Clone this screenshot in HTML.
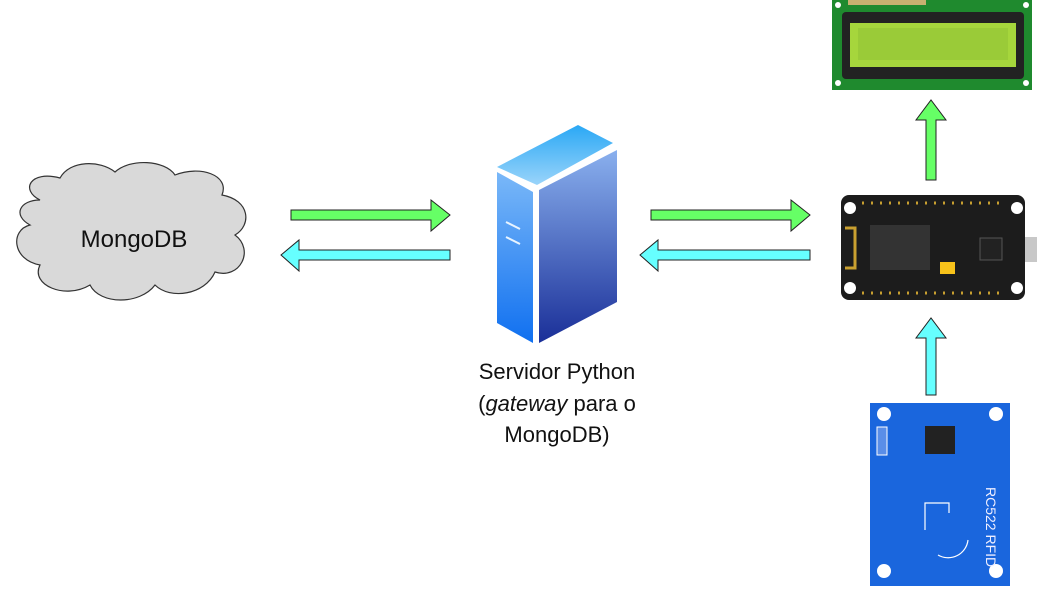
<!DOCTYPE html>
<html><head><meta charset="utf-8"><style>
body{margin:0;width:1040px;height:587px;background:#fff;overflow:hidden;font-family:"Liberation Sans",sans-serif}
</style></head><body>
<svg width="1040" height="587" viewBox="0 0 1040 587" xmlns="http://www.w3.org/2000/svg">
<defs>
<linearGradient id="lf" x1="0" y1="0" x2="0" y2="1"><stop offset="0" stop-color="#7ab8f8"/><stop offset="1" stop-color="#1070f0"/></linearGradient>
<linearGradient id="rf" x1="0" y1="0" x2="0" y2="1"><stop offset="0" stop-color="#8ab0ee"/><stop offset="1" stop-color="#1a2f98"/></linearGradient>
<linearGradient id="tf" x1="0" y1="0" x2="0" y2="1"><stop offset="0" stop-color="#2aa8f5"/><stop offset="1" stop-color="#9ad4fa"/></linearGradient>
</defs>
<path d="M40,200 C20,190 30,170 60,178 C70,160 100,160 115,172 C130,158 165,160 175,175 C200,165 230,175 222,195 C250,200 252,225 235,235 C255,250 240,280 215,272 C205,295 170,300 155,285 C140,305 100,305 90,285 C65,300 30,285 40,265 C12,260 10,230 30,225 C12,215 20,200 40,200 Z" fill="#d9d9d9" stroke="#333" stroke-width="1.2"/>
<text x="134" y="247" font-size="24" text-anchor="middle" fill="#111">MongoDB</text>
<g stroke="#222" stroke-width="1">
<polygon points="291,210 431,210 431,200 450,215 431,231 431,220 291,220" fill="#66ff66"/>
<polygon points="450,250 299,250 299,240 281,255 299,271 299,260 450,260" fill="#66ffff"/>
<polygon points="651,210 791,210 791,200 810,215 791,231 791,220 651,220" fill="#66ff66"/>
<polygon points="810,250 658,250 658,240 640,255 658,271 658,260 810,260" fill="#66ffff"/>
<polygon points="926,180 926,120 916,120 931,100 946,120 936,120 936,180" fill="#66ff66"/>
<polygon points="926,395 926,338 916,338 931,318 946,338 936,338 936,395" fill="#66ffff"/>
</g>
<polygon points="497,167 578,125 613,143 537,185" fill="url(#tf)"/>
<polygon points="497,172 533,192 533,343 497,323" fill="url(#lf)"/>
<polygon points="539,190 617,150 617,302 539,343" fill="url(#rf)"/>
<line x1="506" y1="222" x2="520" y2="229" stroke="#e8f4ff" stroke-width="2"/>
<line x1="506" y1="237" x2="520" y2="244" stroke="#e8f4ff" stroke-width="2"/>
<text font-size="22" text-anchor="middle" fill="#111"><tspan x="557" y="379">Servidor Python</tspan><tspan x="557" y="411">(<tspan font-style="italic">gateway</tspan> para o</tspan><tspan x="557" y="442">MongoDB)</tspan></text>
<rect x="832" y="0" width="200" height="90" fill="#1f8a2e"/>
<rect x="842" y="12" width="182" height="67" rx="4" fill="#222"/>
<rect x="850" y="23" width="166" height="44" fill="#a6d63c"/>
<rect x="858" y="28" width="150" height="32" fill="#9acb38"/>
<rect x="848" y="0" width="78" height="5" fill="#c8b070"/>
<circle cx="838" cy="5" r="3" fill="#fff"/><circle cx="1026" cy="5" r="3" fill="#fff"/><circle cx="838" cy="83" r="3" fill="#fff"/><circle cx="1026" cy="83" r="3" fill="#fff"/>
<rect x="1010" y="237" width="27" height="25" fill="#c8c8c8"/>
<rect x="841" y="195" width="184" height="105" rx="8" fill="#1c1c1c"/>
<line x1="862" y1="203" x2="1004" y2="203" stroke="#c9a030" stroke-width="3" stroke-dasharray="2,7"/>
<line x1="862" y1="293" x2="1004" y2="293" stroke="#c9a030" stroke-width="3" stroke-dasharray="2,7"/>
<circle cx="850" cy="208" r="6" fill="#fff"/><circle cx="1017" cy="208" r="6" fill="#fff"/><circle cx="850" cy="288" r="6" fill="#fff"/><circle cx="1017" cy="288" r="6" fill="#fff"/>
<rect x="870" y="225" width="60" height="45" fill="#333"/>
<path d="M845,228 h10 v40 h-10" stroke="#c9a030" stroke-width="3" fill="none"/>
<rect x="940" y="262" width="15" height="12" fill="#f7c21a"/>
<rect x="980" y="238" width="22" height="22" fill="#222" stroke="#555"/>
<rect x="870" y="403" width="140" height="183" fill="#1a66dd"/>
<circle cx="884" cy="414" r="7" fill="#fff"/><circle cx="996" cy="414" r="7" fill="#fff"/><circle cx="884" cy="571" r="7" fill="#fff"/><circle cx="996" cy="571" r="7" fill="#fff"/>
<rect x="925" y="426" width="30" height="28" fill="#222"/>
<rect x="877" y="427" width="10" height="28" fill="#5a8ee8" stroke="#fff"/>
<path d="M925,530 v-27 h24 v10 M968,540 a20,20 0 0 1 -30,15" stroke="#fff" fill="none" stroke-width="1.2"/>
<text x="0" y="0" font-size="14" fill="#eef" transform="translate(986,487) rotate(90)">RC522 RFID</text>
</svg>
</body></html>
